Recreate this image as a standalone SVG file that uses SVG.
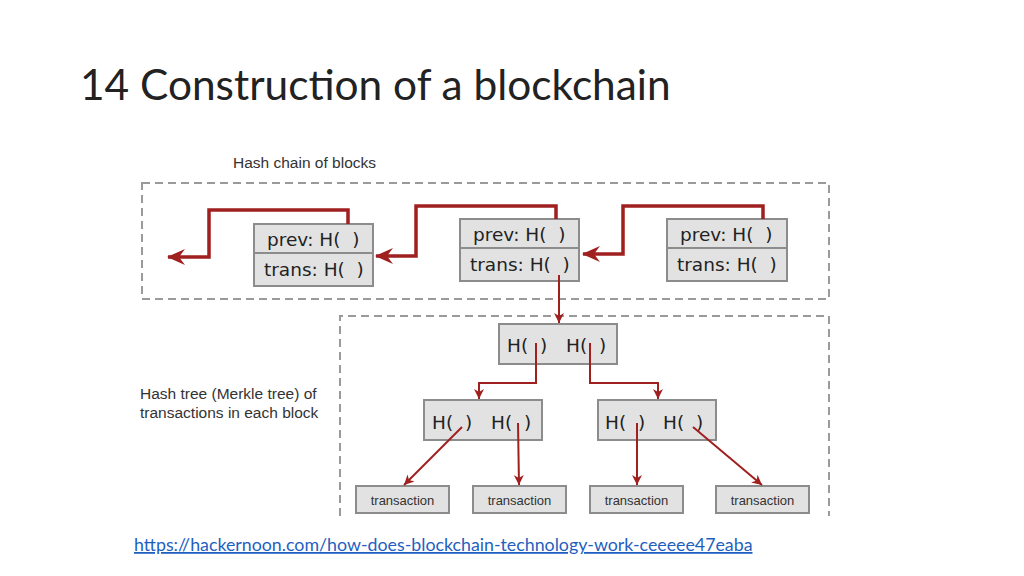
<svg xmlns="http://www.w3.org/2000/svg" width="1024" height="576" viewBox="0 0 1024 576">
<style>
text{white-space:pre}
.title{font-family:Lato,"Open Sans",sans-serif;font-size:42.4px;fill:#222}
.lbl{font-family:"Liberation Sans",Arial,sans-serif;font-size:15.5px;fill:#333}
.blk{fill:#e2e2e2;stroke:#8c8c8c;stroke-width:2}
.bt{font-family:"DejaVu Sans",sans-serif;font-size:18.5px;fill:#222}
.tt{font-family:"Liberation Sans",Arial,sans-serif;font-size:13px;fill:#333}
.dash{fill:none;stroke:#9a9a9a;stroke-width:2;stroke-dasharray:8 5}
.thick{fill:none;stroke:#a01f1f;stroke-width:3.5}
.thin{fill:none;stroke:#a01f1f;stroke-width:2}
.url{font-family:Lato,"Open Sans",sans-serif;font-size:17.8px;fill:#1f5fbf;text-decoration:underline}
</style>
<defs>
<marker id="big" markerWidth="18" markerHeight="16" refX="17" refY="8" orient="auto" markerUnits="userSpaceOnUse" viewBox="0 0 18 16">
<path d="M18,8 L0,0 L6,8 L0,16 Z" fill="#a01f1f"/>
</marker>
<marker id="sm" markerWidth="10" markerHeight="10" refX="10" refY="5" orient="auto" markerUnits="userSpaceOnUse" viewBox="0 0 10 10">
<path d="M10,5 L0,0 L3,5 L0,10 Z" fill="#a01f1f"/>
</marker>
</defs>
<rect width="1024" height="576" fill="#fff"/>
<text class="title" x="80" y="100">14 Construction of a blockchain</text>
<text class="lbl" x="233" y="168">Hash chain of blocks</text>
<rect class="dash" x="142" y="183" width="687" height="116"/>
<path class="dash" d="M340,516 V316 H829 V516"/>
<text class="lbl" x="140" y="399">Hash tree (Merkle tree) of</text>
<text class="lbl" x="140" y="418">transactions in each block</text>
<g id="block1">
<rect class="blk" x="254" y="224" width="119" height="62"/>
<line x1="254" y1="253" x2="373" y2="253" stroke="#8c8c8c" stroke-width="2"/>
<text class="bt" x="267" y="246">prev: H(  )</text>
<text class="bt" x="264" y="276">trans: H(  )</text>
</g>
<g id="block2">
<rect class="blk" x="460" y="219" width="119" height="62"/>
<line x1="460" y1="248" x2="579" y2="248" stroke="#8c8c8c" stroke-width="2"/>
<text class="bt" x="473" y="241">prev: H(  )</text>
<text class="bt" x="470" y="271">trans: H(  )</text>
</g>
<g id="block3">
<rect class="blk" x="667" y="219" width="120" height="62"/>
<line x1="667" y1="248" x2="787" y2="248" stroke="#8c8c8c" stroke-width="2"/>
<text class="bt" x="680" y="241">prev: H(  )</text>
<text class="bt" x="677" y="271">trans: H(  )</text>
</g>
<g id="root">
<rect class="blk" x="499" y="324" width="118" height="40"/>
<text class="bt" x="507" y="352">H(  )</text>
<text class="bt" x="566" y="352">H(  )</text>
</g>
<g id="hashL">
<rect class="blk" x="424" y="400" width="118" height="40"/>
<text class="bt" x="432" y="429">H(  )</text>
<text class="bt" x="491" y="429">H(  )</text>
</g>
<g id="hashR">
<rect class="blk" x="598" y="400" width="118" height="40"/>
<text class="bt" x="605" y="429">H(  )</text>
<text class="bt" x="663" y="429">H(  )</text>
</g>
<g id="tx1"><rect class="blk" x="356" y="486" width="93" height="27"/><text class="tt" x="402.5" y="505" text-anchor="middle">transaction</text></g>
<g id="tx2"><rect class="blk" x="473" y="486" width="93" height="27"/><text class="tt" x="519.5" y="505" text-anchor="middle">transaction</text></g>
<g id="tx3"><rect class="blk" x="590" y="486" width="93" height="27"/><text class="tt" x="636.5" y="505" text-anchor="middle">transaction</text></g>
<g id="tx4"><rect class="blk" x="716" y="486" width="93" height="27"/><text class="tt" x="762.5" y="505" text-anchor="middle">transaction</text></g>
<g id="connectors">
<path class="thick" d="M348,224 V210 H209 V257 H168" marker-end="url(#big)"/>
<path class="thick" d="M556,219 V206 H416 V256 H376" marker-end="url(#big)"/>
<path class="thick" d="M763,219 V206 H623 V254 H583" marker-end="url(#big)"/>
<path class="thin" d="M559,275 V323" marker-end="url(#sm)"/>
<path class="thin" d="M536,343 V383 H479 V399" marker-end="url(#sm)"/>
<path class="thin" d="M590,343 V383 H658 V399" marker-end="url(#sm)"/>
<path class="thin" d="M462,427 L404,485" marker-end="url(#sm)"/>
<path class="thin" d="M518,423 L519,485" marker-end="url(#sm)"/>
<path class="thin" d="M637,423 L637,485" marker-end="url(#sm)"/>
<path class="thin" d="M693,427 L762,485" marker-end="url(#sm)"/>
</g>
<text class="url" x="134" y="551">https://hackernoon.com/how-does-blockchain-technology-work-ceeeee47eaba</text>
</svg>
